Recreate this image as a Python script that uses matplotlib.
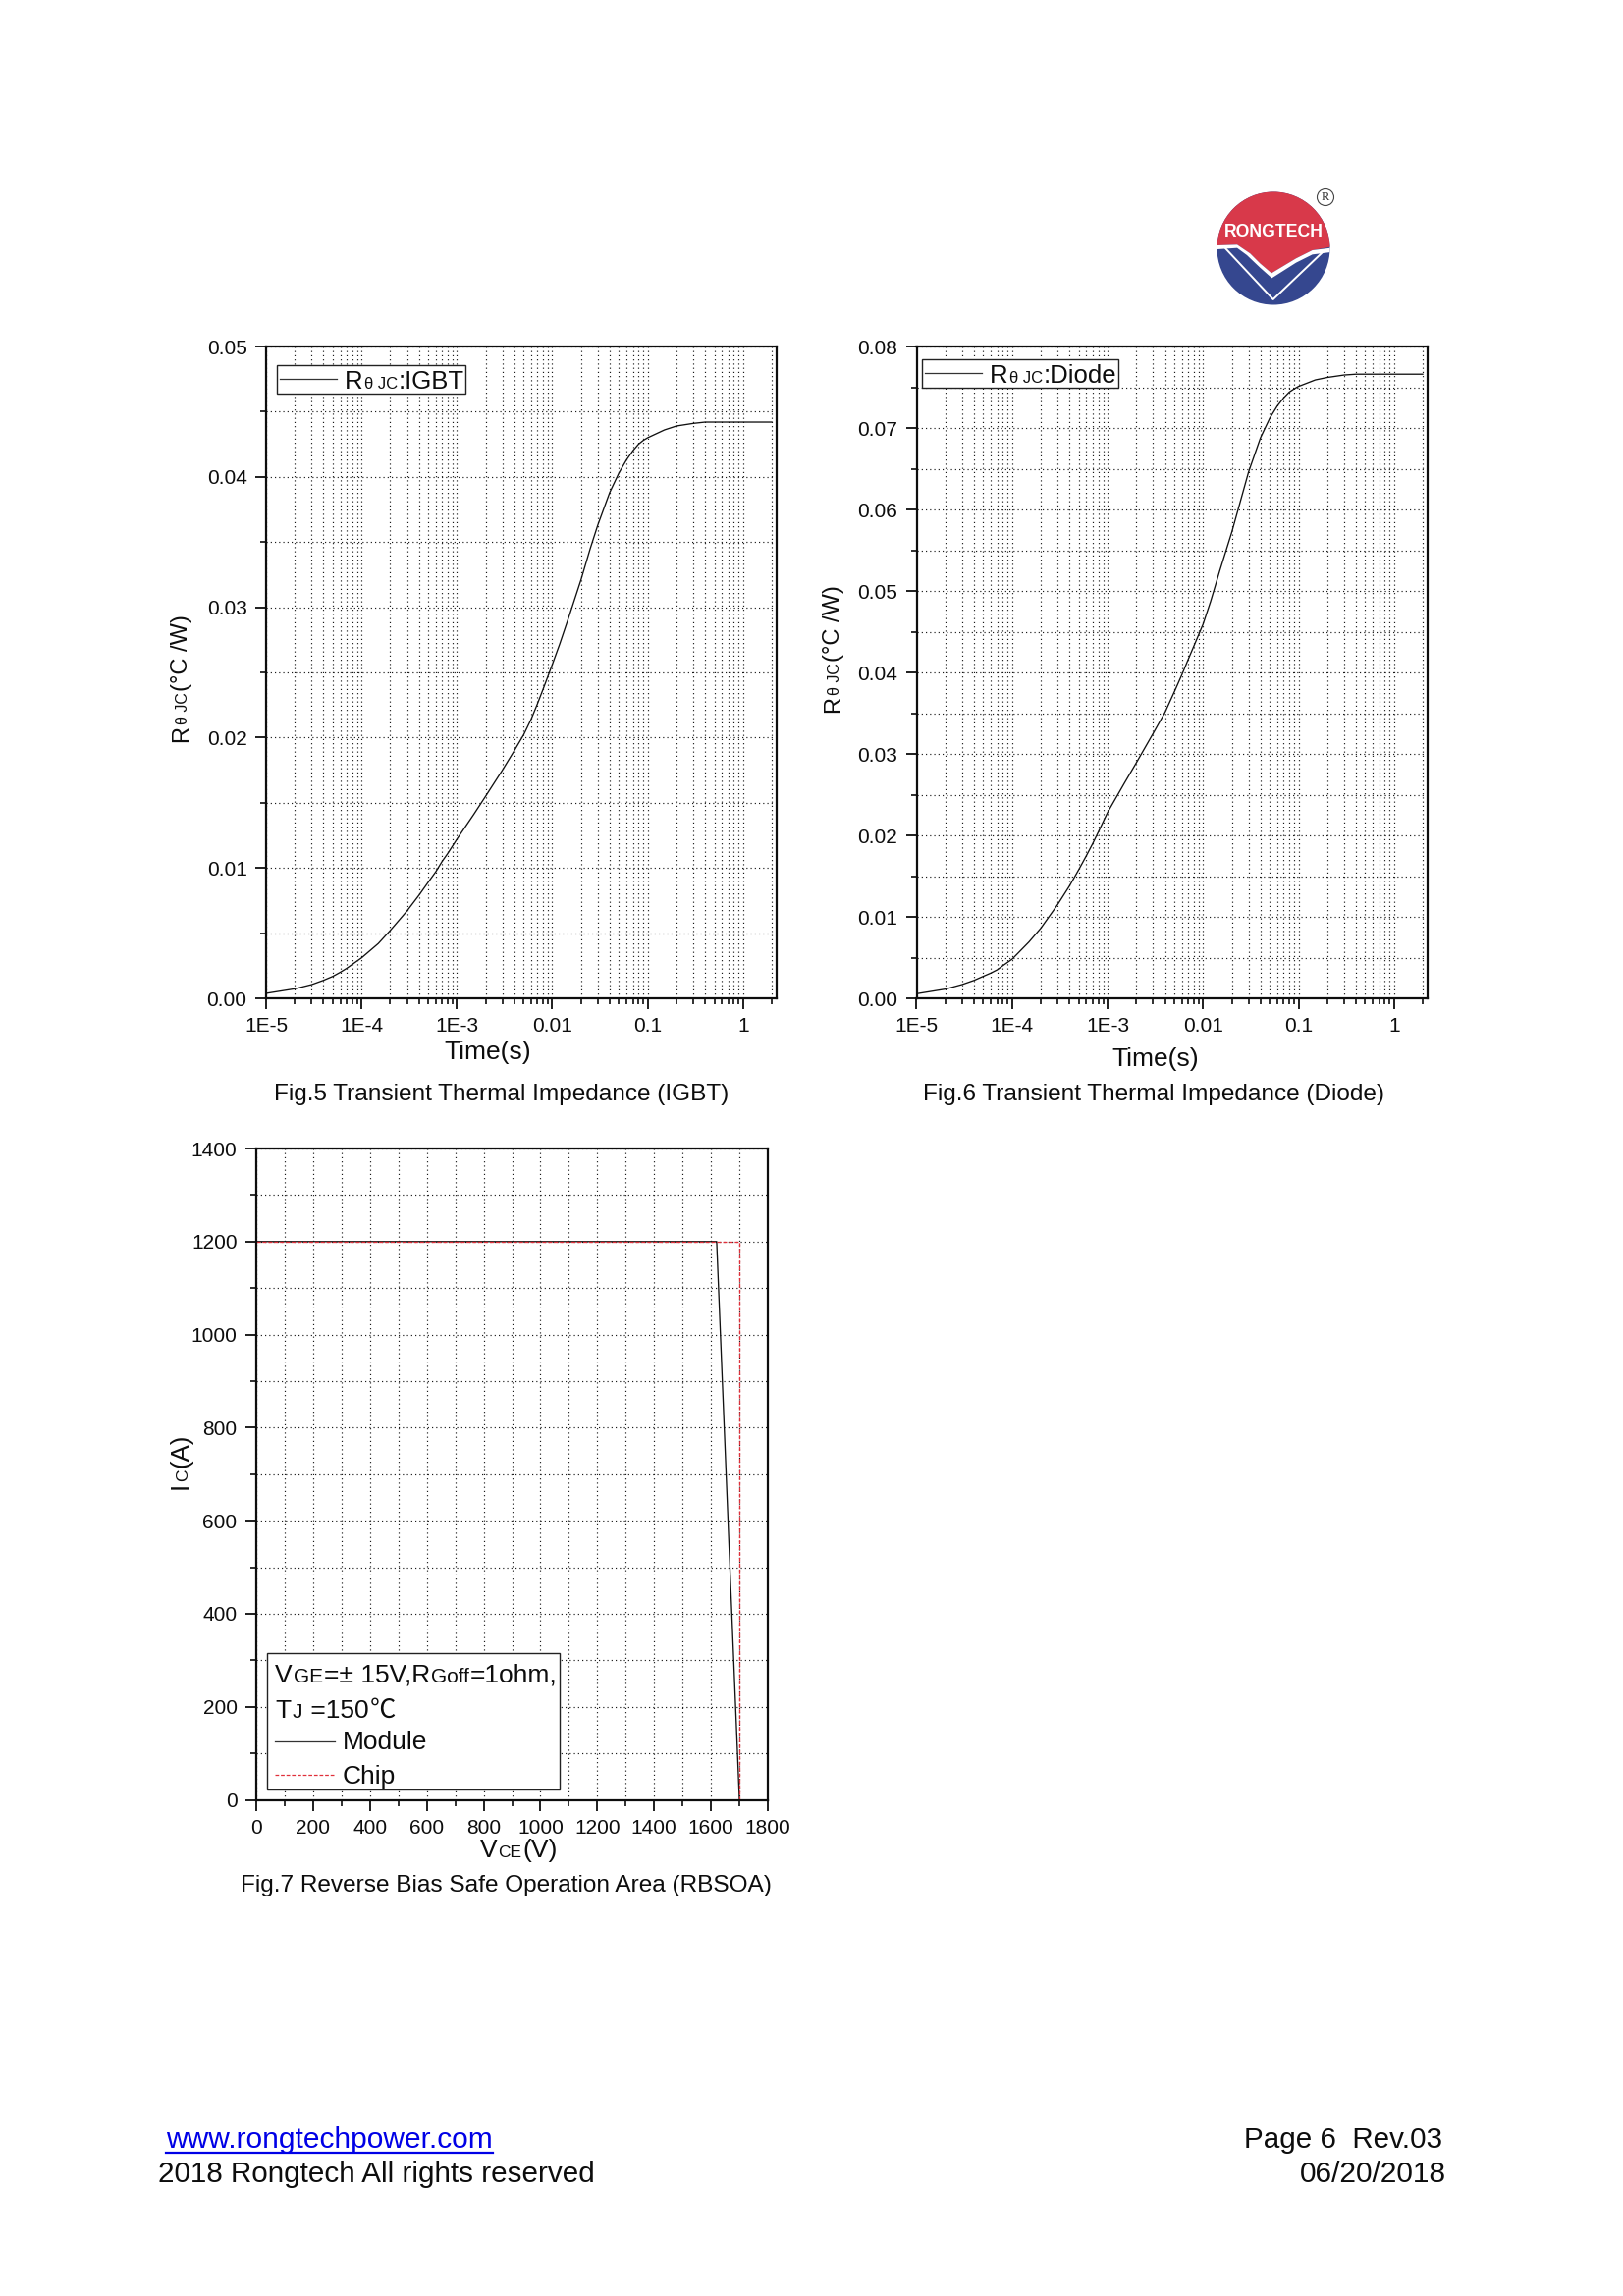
import numpy as np
import matplotlib
matplotlib.use("Agg")
import matplotlib.pyplot as plt
from matplotlib.ticker import FixedLocator, NullFormatter, FixedFormatter
from matplotlib.patches import Circle, Polygon, Rectangle
from matplotlib.lines import Line2D

plt.rcParams['font.family'] = ['Liberation Sans', 'Noto Sans CJK SC', 'DejaVu Sans']

W, H = 1653, 2339

# ---------- data ----------
time_igbt = [1e-5,2e-5,3e-5,4e-5,5e-5,6e-5,7e-5,8e-5,1e-4,1.5e-4,2e-4,3e-4,4e-4,5e-4,6e-4,7e-4,8e-4,1e-3,1.5e-3,2e-3,3e-3,4e-3,
             5e-3,6e-3,7e-3,8e-3,9e-3,1e-2,1.2e-2,1.5e-2,2e-2,2.5e-2,3e-2,4e-2,5e-2,6e-2,7e-2,8e-2,9e-2,0.1,0.15,0.2,0.3,0.4,1,2]
z_igbt = [.00038,.00073,.00105,.00138,.00168,.0020,.0023,.0026,.0031,.0042,.0052,.0067,.0079,.0089,.0097,.0105,.0111,.0122,.0141,.0155,.0175,.0190,
          .0202,.0214,.0226,.0237,.0247,.0256,.0272,.0293,.0321,.0345,.0363,.0388,.0403,.0413,.0420,.0425,.0428,.0430,.0436,.0439,.0441,.0442,.0442,.0442]
time_diode = [1e-5,2e-5,3e-5,4e-5,5e-5,6e-5,7e-5,8e-5,1e-4,1.5e-4,2e-4,3e-4,4e-4,5e-4,6e-4,7e-4,8e-4,1e-3,1.5e-3,2e-3,3e-3,4e-3,
              5e-3,6e-3,7e-3,8e-3,1e-2,1.2e-2,1.5e-2,2e-2,3e-2,4e-2,5e-2,6e-2,7e-2,8e-2,9e-2,0.1,0.15,0.2,0.3,0.4,1,2]
z_diode = [.00056,.00113,.00169,.0022,.0027,.0031,.0035,.0040,.0048,.0069,.0086,.0115,.0138,.0158,.0175,.0190,.0204,.0228,.0264,.0289,.0325,.0351,
           .0376,.0397,.0416,.0432,.0459,.0487,.0525,.0572,.0646,.0688,.0712,.0727,.0737,.0744,.0748,.0751,.0759,.0762,.0765,.0766,.0766,.0766]
time_major = [1e-5,1e-4,1e-3,1e-2,1e-1,1]
time_labels = ['1E-5','1E-4','1E-3','0.01','0.1','1']
y5_major = [0,.01,.02,.03,.04,.05]
y5_labels = ['0.00','0.01','0.02','0.03','0.04','0.05']
y5_minor = [.005,.015,.025,.035,.045]
y6_major = [0,.01,.02,.03,.04,.05,.06,.07,.08]
y6_labels = ['0.00','0.01','0.02','0.03','0.04','0.05','0.06','0.07','0.08']
y6_minor = [.005,.015,.025,.035,.045,.055,.065,.075]
vce_module = [0,1620,1700]
ic_module = [1200,1200,0]
vce_chip = [0,1700,1700]
ic_chip = [1200,1200,0]
x7_major = [0,200,400,600,800,1000,1200,1400,1600,1800]
x7_minor = [100,300,500,700,900,1100,1300,1500,1700]
y7_major = [0,200,400,600,800,1000,1200,1400]
y7_minor = [100,300,500,700,900,1100,1300]

# ---------- layout helpers ----------
fig = plt.figure(figsize=(W/100, H/100), dpi=100, facecolor='white')
renderer = fig.canvas.get_renderer()
INK = '#0d0d0d'

def add_axes(l, r, t, b):
    return fig.add_axes([l/W, 1-b/H, (r-l)/W, (b-t)/H])

def runs(x, y, parts, color=INK, rotation=0):
    """Draw (text, size) runs one after another from pixel (x, y) on the baseline."""
    for s, size in parts:
        t = fig.text(x/W, 1-y/H, s, fontsize=size, color=color, rotation=rotation,
                     rotation_mode='anchor', ha='left', va='baseline')
        e = t.get_window_extent(renderer)
        if rotation == 90:
            y -= e.height + 1
        else:
            x += e.width + 1

def style(ax):
    for sp in ax.spines.values():
        sp.set_linewidth(1.6)
        sp.set_color(INK)
    ax.tick_params(which='major', direction='out', length=8, width=1.3, labelsize=15, pad=6, color=INK, labelcolor=INK)
    ax.tick_params(which='minor', direction='out', length=4.5, width=1.2, color=INK)
    ax.grid(True, which='both', linestyle=(0, (1, 2.6)), linewidth=0.85, color='#1a1a1a')
    ax.set_axisbelow(True)

def log_axes(ax, ymax, ymaj, ylab, ymin):
    ax.set_xscale('log')
    ax.set_xlim(1e-5, 2.25)
    ax.set_ylim(0, ymax)
    ax.xaxis.set_major_locator(FixedLocator(time_major))
    ax.xaxis.set_major_formatter(FixedFormatter(time_labels))
    minors = [m*d for d in [1e-5,1e-4,1e-3,1e-2,1e-1,1] for m in range(2,10) if m*d <= 2.25]
    ax.xaxis.set_minor_locator(FixedLocator(minors))
    ax.xaxis.set_minor_formatter(NullFormatter())
    ax.yaxis.set_major_locator(FixedLocator(ymaj))
    ax.yaxis.set_major_formatter(FixedFormatter(ylab))
    ax.yaxis.set_minor_locator(FixedLocator(ymin))
    style(ax)

# ---------- Fig. 5 ----------
ax5 = add_axes(271, 791, 353, 1017)
ax5.plot(time_igbt, z_igbt, color='#111111', lw=0.95)
log_axes(ax5, 0.05, y5_major, y5_labels, y5_minor)

# ---------- Fig. 6 ----------
ax6 = add_axes(933.5, 1454, 353, 1017)
ax6.plot(time_diode, z_diode, color='#111111', lw=0.95)
log_axes(ax6, 0.08, y6_major, y6_labels, y6_minor)

# ---------- Fig. 7 ----------
ax7 = add_axes(261, 782, 1170, 1833.5)
ax7.plot(vce_module, ic_module, color='#111111', lw=0.95)
ax7.plot(vce_chip, ic_chip, color='#e0303a', lw=0.95, ls=(0, (3, 1.5)))
ax7.set_xlim(0, 1800); ax7.set_ylim(0, 1400)
ax7.xaxis.set_major_locator(FixedLocator(x7_major))
ax7.xaxis.set_minor_locator(FixedLocator(x7_minor))
ax7.yaxis.set_major_locator(FixedLocator(y7_major))
ax7.yaxis.set_minor_locator(FixedLocator(y7_minor))
style(ax7)

# ---------- overlay: legends, logo ----------
ov = fig.add_axes([0, 0, 1, 1], facecolor='none')
ov.set_xlim(0, W); ov.set_ylim(H, 0); ov.axis('off')

def box(l, r, t, b):
    ov.add_patch(Rectangle((l, t), r-l, b-t, fc='white', ec='#222222', lw=1.0, zorder=2))

def hline(x0, x1, y, color='#333333', ls='-'):
    ov.add_line(Line2D([x0, x1], [y, y], color=color, lw=0.9, ls=ls, zorder=3))

box(282, 474, 372, 401); hline(285, 343, 386)
box(939, 1139, 366, 395); hline(942, 1000, 380)
box(272, 570, 1684, 1823); hline(280, 341, 1774); hline(280, 341, 1808, color='#e0303a', ls=(0, (3, 1.5)))

BIG, SMALL = 18.5, 12
runs(351, 395.5, [('R', BIG), ('\u03b8 JC', SMALL), (':IGBT', BIG)])
runs(1008, 389.5, [('R', BIG), ('\u03b8 JC', SMALL), (':Diode', BIG)])

LEG, LSM = 19, 15
runs(280, 1713.5, [('V', LEG), ('GE', LSM), ('=\u00b1 15V,R', LEG), ('Goff', LSM), ('=1ohm,', LEG)])
runs(280, 1750, [('T', LEG), ('J', LSM), (' =150', LEG), ('\u2103', LEG)])
runs(349, 1782.5, [('Module', LEG)])
runs(349, 1817.5, [('Chip', LEG)])

# axis labels and captions
LAB, LABS = 17, 11.5
runs(191, 756, [('R', LAB), ('\u03b8 JC', LABS), ('(\u00b0C /W)', LAB)], rotation=90)
runs(855, 726, [('R', LAB), ('\u03b8 JC', LABS), ('(\u00b0C /W)', LAB)], rotation=90)
runs(191, 1517, [('I', 18.5), ('C', 12.5), ('(A)', 18.5)], rotation=90)
fig.text(497/W, 1-1078.5/H, 'Time(s)', fontsize=19, color=INK, ha='center', va='baseline')
fig.text(1177/W, 1-1086/H, 'Time(s)', fontsize=19, color=INK, ha='center', va='baseline')
runs(489, 1892, [('V', 19), ('CE', 12.5), ('(V)', 19)])

CAP = 17.55
fig.text(511/W, 1-1121/H, 'Fig.5 Transient Thermal Impedance (IGBT)', fontsize=CAP, color=INK, ha='center', va='baseline')
fig.text(1174.5/W, 1-1121/H, 'Fig.6 Transient Thermal Impedance (Diode)', fontsize=CAP, color=INK, ha='center', va='baseline')
fig.text(515.5/W, 1-1927/H, 'Fig.7 Reverse Bias Safe Operation Area (RBSOA)', fontsize=CAP, color=INK, ha='center', va='baseline')

# footer
fig.text(169/W, 1-2188/H, 'www.rongtechpower.com', fontsize=21.5, color='#0000e6', va='baseline')
ov.add_line(Line2D([169, 502], [2193, 2193], color='#0000e6', lw=1.6))
fig.text(161/W, 1-2223/H, '2018 Rongtech All rights reserved', fontsize=21.35, color=INK, va='baseline')
fig.text(1469/W, 1-2188/H, 'Page 6  Rev.03', fontsize=21.35, color=INK, ha='right', va='baseline')
fig.text(1472.5/W, 1-2223/H, '06/20/2018', fontsize=21.5, color=INK, ha='right', va='baseline')

# logo
RED, BLUE = '#d8394a', '#35478f'
cx, cy, rad = 1297, 253, 57.5
clip = Circle((cx, cy), rad, transform=ov.transData)
def zone(pts, color, z):
    p = Polygon([(1220+a/3, 170+b/3) for a, b in pts], closed=True, fc=color, ec='none', zorder=z)
    ov.add_patch(p); p.set_clip_path(clip)
zone([(30,60),(430,60),(430,450),(30,450)], BLUE, 5)
zone([(30,60),(430,60),(430,245),(405,245),(350,255),(300,280),(225,325),(190,295),(160,265),(120,238),(60,240),(30,245)], RED, 6)
zone([(30,245),(60,240),(120,238),(160,265),(190,295),(225,325),(300,280),(350,255),(430,245),(430,258),(350,268),(300,293),(226,340),(190,308),(150,270),(120,248),(60,252),(30,258)], 'white', 7)
ov.add_line(Line2D([1220+85/3, 1220+230/3, 1220+380/3], [170+250/3, 170+405/3, 170+262/3], color='white', lw=1.4, zorder=8))
ov.text(cx+0.5, 170+200/3, 'RONGTECH', color='white', fontsize=12.7, fontweight='bold', ha='center', va='center', zorder=9)
ov.add_patch(Circle((1350, 201), 8.5, fc='none', ec='#444444', lw=0.8))
ov.text(1350, 201, 'R', fontsize=9, family='Liberation Serif', color='#333333', ha='center', va='center')

fig.savefig('out.png', dpi=100)
